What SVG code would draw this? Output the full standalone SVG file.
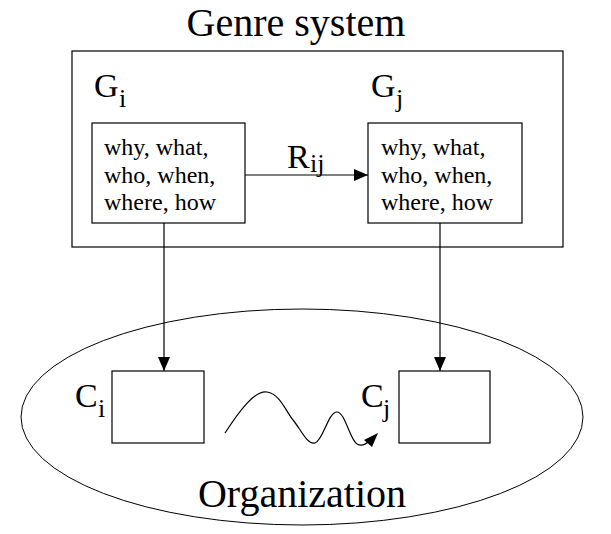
<svg xmlns="http://www.w3.org/2000/svg" width="611" height="534" viewBox="0 0 611 534">
<defs>
<style>
text { fill: #000; }
.big { font-size: 40px; }
.lbl { font-size: 34px; }
.sub { font-size: 26px; }
.body { font-size: 24px; }
.box { fill: #fff; stroke: #000; stroke-width: 1.2; }
.line { fill: none; stroke: #000; stroke-width: 1.2; }
</style>
<marker id="arr" viewBox="0 0 14 12" refX="14" refY="6" markerWidth="14" markerHeight="12" markerUnits="userSpaceOnUse" orient="auto">
<path d="M0,0 L14,6 L0,12 Z" fill="#000"/>
</marker>
</defs>
<rect width="611" height="534" fill="#fff"/>
<g font-family="'Liberation Serif', 'Times New Roman', serif">

<g id="genre-system">
<rect class="box" x="72" y="51" width="491" height="196"/>
<text class="big" x="296" y="36" text-anchor="middle">Genre system</text>
</g>

<g id="organization">
<ellipse cx="302" cy="417" rx="281" ry="108" fill="none" stroke="#000" stroke-width="1"/>
<text class="big" x="302" y="507" text-anchor="middle">Organization</text>
</g>

<g id="Gi">
<text class="lbl" x="94" y="97">G</text>
<text class="sub" x="119" y="107">i</text>
<rect class="box" x="92" y="123" width="153" height="100"/>
<text class="body" x="104" y="155">why, what,</text>
<text class="body" x="104" y="183">who, when,</text>
<text class="body" x="104" y="210">where, how</text>
</g>

<g id="Gj">
<text class="lbl" x="371" y="97">G</text>
<text class="sub" x="396" y="107">j</text>
<rect class="box" x="368" y="123" width="154" height="100"/>
<text class="body" x="381" y="155">why, what,</text>
<text class="body" x="381" y="183">who, when,</text>
<text class="body" x="381" y="210">where, how</text>
</g>

<g id="Ci">
<rect class="box" x="112" y="371" width="92" height="72"/>
<text class="lbl" x="75" y="407">C</text>
<text class="sub" x="98" y="417">i</text>
</g>

<g id="Cj">
<rect class="box" x="399" y="371" width="91" height="72"/>
<text class="lbl" x="361" y="407">C</text>
<text class="sub" x="383" y="417">j</text>
</g>

<g id="connectors">
<line class="line" x1="245" y1="175" x2="368" y2="175" marker-end="url(#arr)"/>
<text class="lbl" x="287" y="168">R</text>
<text class="sub" x="310" y="172">ij</text>
<line class="line" x1="164" y1="223" x2="164" y2="371" marker-end="url(#arr)"/>
<line class="line" x1="440" y1="223" x2="440" y2="371" marker-end="url(#arr)"/>
<path class="line" stroke-width="1" d="M225,433 C240,410 255,390 267,392 C280,394 285,410 293,420 C300,428 307,445 315,443 C323,441 328,412 337,412 C345,412 350,440 357,444 C362,447 367,443 369,441"/>
<polygon points="378,433 364,440 372,447" fill="#000"/>
</g>
</g>
</svg>
